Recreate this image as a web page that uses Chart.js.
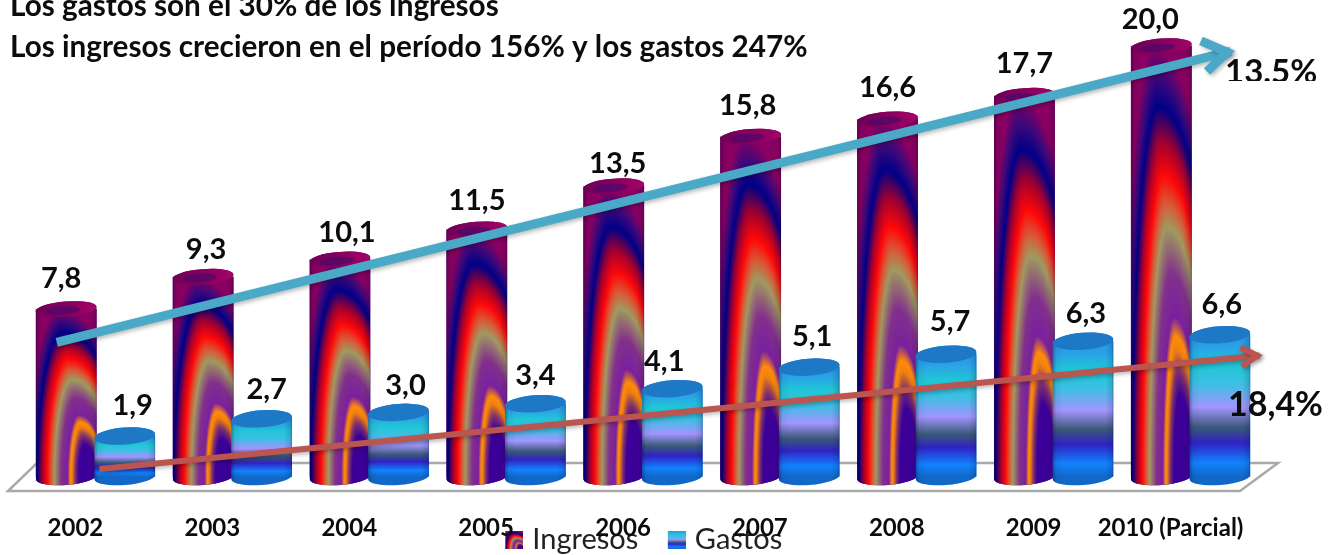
<!DOCTYPE html>
<html><head><meta charset="utf-8">
<style>html,body{margin:0;padding:0;background:#fff;overflow:hidden}canvas{display:block;filter:blur(0.45px)}</style>
<script src="https://cdn.jsdelivr.net/npm/chart.js@4"></script>
</head><body><canvas id="c" width="1338" height="555"></canvas>
<script>
const categories = ['2002','2003','2004','2005','2006','2007','2008','2009','2010 (Parcial)'];
const ingresos = [7.8,9.3,10.1,11.5,13.5,15.8,16.6,17.7,20.0];
const gastos = [1.9,2.7,3.0,3.4,4.1,5.1,5.7,6.3,6.6];
const seriesNames = ['Ingresos','Gastos'];
const headline = ['Los gastos son el 30% de los ingresos','Los ingresos crecieron en el período 156% y los gastos 247%'];
const rateIngresos = '13.5%';
const rateGastos = '18,4%';
// trend arrows: [category position, value]
const trendIngresos = [[-0.283,6.25],[8.33,19.82]];
const trendGastos = [[0.03,0.37],[8.53,5.66]];
// label nudges [dx,dy] per point
const nudgeI = [[-5,-30],[3,-27],[7,-27],[0,-29],[4,-22],[-3,-31],[0,-32],[0,-32],[-11,-26]];
const nudgeG = [[8,-30],[5,-29],[7,-27],[0,-28],[-8,-27],[3,-30],[4,-33],[3,-28],[2,-30]];

const stopsI = [[0,'#3c0098'],[0.19,'#3c0098'],[0.245,'#80306c'],[0.295,'#f08010'],[0.325,'#ff8c08'],[0.37,'#7a20a0'],[0.47,'#82308c'],[0.58,'#a09a60'],[0.635,'#d85a38'],[0.70,'#ff0808'],[0.78,'#a00030'],[0.86,'#000088'],[0.93,'#40087a'],[1,'#8a0062']];
const stopsG = [[0,'#1168c8'],[0.10,'#1282ff'],[0.24,'#3022c4'],[0.35,'#3a5a78'],[0.49,'#a394ff'],[0.65,'#3cc0e4'],[0.79,'#20c6d6'],[0.92,'#2aa0e8'],[1,'#2b92e0']];

function hex(c){return [parseInt(c.slice(1,3),16),parseInt(c.slice(3,5),16),parseInt(c.slice(5,7),16)];}
function rampColor(t){
  if(t<=stopsI[0][0])return hex(stopsI[0][1]);
  for(let i=1;i<stopsI.length;i++){
    if(t<=stopsI[i][0]){
      const a=stopsI[i-1],b=stopsI[i],f=(t-a[0])/(b[0]-a[0]),ca=hex(a[1]),cb=hex(b[1]);
      return [0,1,2].map(k=>ca[k]+(cb[k]-ca[k])*f);
    }
  }
  return hex(stopsI[stopsI.length-1][1]);
}
// the Ingresos fill: lopsided arches around a focus low on the right
function buildTexture(){
  const W=122,H=430,c=document.createElement('canvas');c.width=W;c.height=H;
  const x=c.getContext('2d'),img=x.createImageData(W,H);
  for(let j=0;j<H;j++){
    const v=1-j/(H-1);
    for(let i=0;i<W;i++){
      const u=i/(W-1);
      let lo=0.001,hi=1.6;
      for(let n=0;n<22;n++){
        const t=(lo+hi)/2,ct=0.9-0.52*t,d=u-ct,hw=d<0?0.5*t:1.15*t;
        const g=(d/hw)*(d/hw)+(v/t)*(v/t)-1;
        if(g>0)lo=t;else hi=t;
      }
      const col=rampColor(hi),o=(j*W+i)*4;
      img.data[o]=col[0];img.data[o+1]=col[1];img.data[o+2]=col[2];img.data[o+3]=255;
    }
  }
  x.putImageData(img,0,0);return c;
}
const texture=buildTexture();

function shade(ctx,l,w,top,h){
  const g=ctx.createLinearGradient(l,0,l+w,0);
  g.addColorStop(0,'rgba(0,0,40,.35)');g.addColorStop(.06,'rgba(0,0,40,.06)');g.addColorStop(.18,'rgba(0,0,0,0)');
  g.addColorStop(.87,'rgba(0,0,0,0)');g.addColorStop(.97,'rgba(0,0,40,.12)');g.addColorStop(1,'rgba(0,0,40,.32)');
  ctx.fillStyle=g;ctx.fillRect(l,top,w,h);
}
function paintI(ctx,l,w,base,top){
  ctx.fillStyle='#3c0098';ctx.fillRect(l,base,w,14);
  ctx.drawImage(texture,l,top,w,base-top);
  ctx.drawImage(texture,0,428,122,2,l,base,w,14);
  ctx.fillStyle='#8a0062';ctx.fillRect(l,top-12,w,12);
}
function paintG(ctx,l,w,base,top){
  const g=ctx.createLinearGradient(0,top,0,base);
  stopsG.forEach(s=>g.addColorStop(1-s[0],s[1]));
  ctx.fillStyle=g;ctx.fillRect(l,top-12,w,base-top+26);
}
function cylinder(ctx,el,kind){
  const w=el.width,l=el.x-w/2,top=el.y,base=el.base,rx=w/2;
  const ryT=kind===0?7.5:8.5,ryB=8,rot=-0.075;
  ctx.save();ctx.beginPath();
  ctx.ellipse(el.x,top,rx,ryT,rot,Math.PI,2*Math.PI);
  ctx.lineTo(l+w,base);
  ctx.ellipse(el.x,base,rx,ryB,rot,0,Math.PI);
  ctx.closePath();ctx.clip();
  if(kind===0)paintI(ctx,l,w,base,top);else paintG(ctx,l,w,base,top);
  shade(ctx,l,w,top-12,base-top+26);
  ctx.restore();
  ctx.save();
  ctx.beginPath();ctx.ellipse(el.x,top,rx,ryT,rot,0,2*Math.PI);
  if(kind===0){
    const g=ctx.createLinearGradient(l,0,l+w,0);
    g.addColorStop(0,'#6d0058');g.addColorStop(.75,'#960062');g.addColorStop(1,'#a00868');
    ctx.fillStyle=g;ctx.fill();
    ctx.beginPath();ctx.ellipse(el.x-3,top+1.5,rx*.55,ryT*.55,rot,0,2*Math.PI);
    ctx.fillStyle='rgba(60,10,110,.55)';ctx.fill();
  }else{
    ctx.fillStyle='#1d78c6';ctx.fill();
  }
  ctx.restore();
}
function arrow(ctx,chart,pts,color,lw,a1,a2,la){
  const xs=chart.scales.x,ys=chart.scales.y;
  const x0=xs.getPixelForValue(pts[0][0]),y0=ys.getPixelForValue(pts[0][1]);
  const x1=xs.getPixelForValue(pts[1][0]),y1=ys.getPixelForValue(pts[1][1]);
  const ang=Math.atan2(y1-y0,x1-x0);
  ctx.save();
  ctx.strokeStyle=color;ctx.lineWidth=lw;ctx.lineCap='butt';ctx.lineJoin='miter';
  ctx.shadowColor='rgba(0,0,0,.28)';ctx.shadowBlur=4;ctx.shadowOffsetX=2;ctx.shadowOffsetY=2;
  ctx.beginPath();ctx.moveTo(x0,y0);ctx.lineTo(x1-lw*0.6*Math.cos(ang),y1-lw*0.6*Math.sin(ang));ctx.stroke();
  ctx.beginPath();
  ctx.moveTo(x1+la*Math.cos(ang+Math.PI-a1),y1+la*Math.sin(ang+Math.PI-a1));
  ctx.lineTo(x1-lw*Math.cos(ang),y1-lw*Math.sin(ang));
  ctx.lineTo(x1+la*Math.cos(ang+Math.PI+a2),y1+la*Math.sin(ang+Math.PI+a2));
  ctx.stroke();
  ctx.restore();
}
function swatch(kind){
  const c=document.createElement('canvas');c.width=45;c.height=18;
  const x=c.getContext('2d');
  if(kind===0){
    x.drawImage(texture,27,0,18,18);
  }else{
    const g=x.createLinearGradient(0,0,0,18);
    stopsG.forEach(s=>g.addColorStop(1-s[0],s[1]));
    x.fillStyle=g;x.fillRect(27,0,18,18);
  }
  return c;
}
const swatches=[swatch(0),swatch(1)];

const decor={
  id:'decor',
  afterLayout(chart){
    const lg=chart.legend;
    lg.left-=10;lg.right-=10;
    const dy=517-lg.top;lg.top+=dy;lg.bottom+=dy;
    chart.scales.x.bottom=555;
  },
  beforeDatasetsDraw(chart){
    const ctx=chart.ctx,a=chart.chartArea;
    ctx.save();
    ctx.strokeStyle='#a9a9a9';ctx.lineWidth=2.5;ctx.lineJoin='miter';
    ctx.beginPath();
    ctx.moveTo(a.left-19,a.bottom+14);
    ctx.lineTo(a.right-19,a.bottom+14);
    ctx.lineTo(a.right+19,a.bottom-14);
    ctx.lineTo(a.left+10,a.bottom-14);
    ctx.closePath();ctx.stroke();
    ctx.restore();
  },
  afterDatasetsDraw(chart){
    const ctx=chart.ctx;
    const m0=chart.getDatasetMeta(0).data,m1=chart.getDatasetMeta(1).data;
    m0.forEach((el,i)=>{cylinder(ctx,el,0);cylinder(ctx,m1[i],1);});
    ctx.save();
    ctx.fillStyle='#0c0c0c';ctx.textAlign='center';ctx.textBaseline='middle';
    ctx.font='bold 29px Lato';
    m0.forEach((el,i)=>ctx.fillText(ingresos[i].toFixed(1).replace('.',','),el.x+nudgeI[i][0],el.y+nudgeI[i][1]));
    m1.forEach((el,i)=>ctx.fillText(gastos[i].toFixed(1).replace('.',','),el.x+nudgeG[i][0],el.y+nudgeG[i][1]));
    ctx.restore();
    arrow(ctx,chart,trendIngresos,'#4ba9c8',9,0.4,0.5,36);
    arrow(ctx,chart,trendGastos,'#bb5550',6,0.4,0.43,24);
    ctx.save();
    ctx.fillStyle='#0c0c0c';ctx.textAlign='left';ctx.textBaseline='alphabetic';
    ctx.font='bold 29.7px Lato';
    ctx.fillText(headline[0],10,16);
    ctx.fillText(headline[1],10,57);
    ctx.font='bold 34px Lato';
    ctx.fillText(rateGastos,1228,416);
    ctx.font='bold 33px Lato';
    ctx.beginPath();ctx.rect(1200,40,138,41);ctx.clip();
    ctx.fillText(rateIngresos,1225,83);
    ctx.restore();
  }
};

new Chart(document.getElementById('c'),{
  type:'bar',
  data:{labels:categories,datasets:[
    {label:seriesNames[0],data:ingresos,backgroundColor:'#5a0a80',barPercentage:1.04,categoryPercentage:0.855},
    {label:seriesNames[1],data:gastos,backgroundColor:'#1d78c6',barPercentage:1.04,categoryPercentage:0.855}
  ]},
  plugins:[decor],
  options:{
    responsive:false,animation:false,
    layout:{padding:{left:27,right:79,top:3,bottom:0}},
    scales:{
      x:{
        grid:{display:false},border:{display:false},
        ticks:{color:'#0c0c0c',font:{family:'Lato',size:24,weight:'bold'},padding:29,labelOffset:-20,maxRotation:0,autoSkip:false},
        afterFit(s){s.height=555-477-s.chart.legend.height;}
      },
      y:{display:false,min:0,max:22}
    },
    plugins:{
      tooltip:{enabled:false},
      legend:{
        position:'bottom',
        labels:{
          usePointStyle:true,color:'#222',font:{family:'Lato',size:29},padding:8,boxHeight:18,pointStyleWidth:34,
          generateLabels(chart){
            return chart.data.datasets.map((d,i)=>({text:d.label,datasetIndex:i,pointStyle:swatches[i],fontColor:'#222',fillStyle:d.backgroundColor,strokeStyle:'transparent',lineWidth:0,hidden:false}));
          }
        }
      }
    }
  }
});
</script></body></html>
